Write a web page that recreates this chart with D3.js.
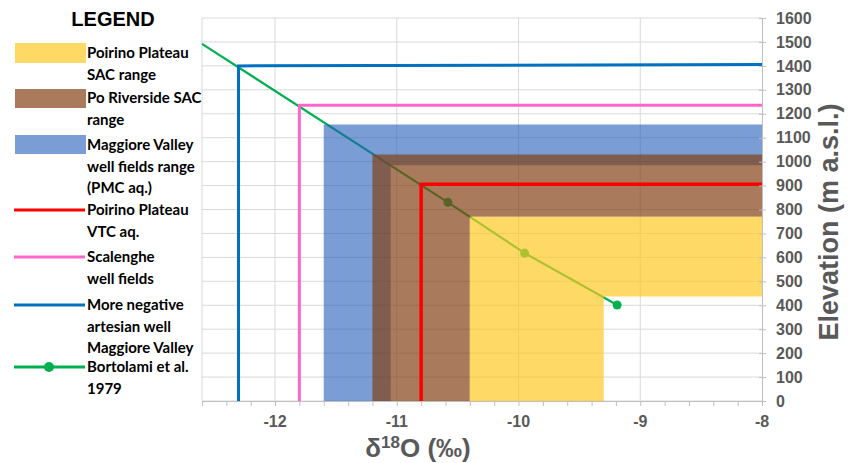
<!DOCTYPE html>
<meta charset="utf-8">
<style>
  body { margin: 0; background: #fff; }
  svg { display: block; font-family: "Liberation Sans", Arial, sans-serif; }
</style>
<body>
<script src="https://cdn.jsdelivr.net/npm/d3@7"></script>
<script>
// ---- data ----
var xTicks = [-12, -11, -10, -9, -8];
var yTicks = [0, 100, 200, 300, 400, 500, 600, 700, 800, 900, 1000, 1100, 1200, 1300, 1400, 1500, 1600];

// L-shaped ranges: outer corner (x, y) and inner corner (x, y), open to the right/bottom
var rangeNames  = ["Maggiore Valley well fields range (PMC aq.)", "Po Riverside SAC range", "Poirino Plateau SAC range"];
var rangeOuterX = [-11.6, -11.2, -10.4];
var rangeOuterY = [1155, 1030, 770];
var rangeInnerX = [-11.05, -10.4, -9.3];
var rangeInnerY = [985, 770, 437];

// step lines: vertical at x, then horizontal at elevation
var stepNames = ["Poirino Plateau VTC aq.", "Scalenghe well fields", "More negative artesian well Maggiore Valley"];
var stepX     = [-10.8, -11.8, -12.3];
var stepY     = [905, 1235, 1400];
var stepYEnd  = [905, 1235, 1406];

// Bortolami et al. 1979 line
var bortX = [-12.6, -10.58, -9.95, -9.19];
var bortY = [1492, 830, 618, 401];
var bortMarker = [false, true, true, true];

// ---- layout ----
var W = 851, H = 463;
var margin = {top: 18, right: 89, bottom: 62, left: 202},
  width = W - margin.left - margin.right,
  height = H - margin.top - margin.bottom;

var svg = d3.select("body").append("svg")
    .attr("width", W)
    .attr("height", H);

var g = svg.append("g")
    .attr("transform", "translate(" + margin.left + "," + margin.top + ")");

var x = d3.scaleLinear().domain([-12.6, -8]).range([0, width]);
var y = d3.scaleLinear().domain([0, 1600]).range([height, 0]);

var grey = "#595959";

// gridlines
g.selectAll(".hgrid").data(yTicks).enter().append("line")
    .attr("x1", 0).attr("x2", width)
    .attr("y1", function(d) { return y(d); }).attr("y2", function(d) { return y(d); })
    .style("stroke", "#d9d9d9").style("stroke-width", 1);
g.selectAll(".vgrid").data([-12.6].concat(xTicks.slice(0, -1))).enter().append("line")
    .attr("x1", function(d) { return x(d); }).attr("x2", function(d) { return x(d); })
    .attr("y1", 0).attr("y2", height)
    .style("stroke", "#d9d9d9").style("stroke-width", 1);

// green line goes under the coloured ranges
var line = d3.line().x(function(d) { return x(d[0]); }).y(function(d) { return y(d[1]); });
var bort = bortX.map(function(v, i) { return [v, bortY[i], bortMarker[i]]; });
g.append("path")
    .attr("d", line(bort))
    .style("fill", "none").style("stroke", "#00b050").style("stroke-width", 2.2);
g.selectAll(".bortDot").data(bort.filter(function(d) { return d[2]; })).enter().append("circle")
    .attr("cx", function(d) { return x(d[0]); })
    .attr("cy", function(d) { return y(d[1]); })
    .attr("r", 4.5)
    .style("fill", "#00b050");

// ranges (semi transparent)
var rangeFill = ["rgb(35,92,187)", "rgb(130,64,19)", "rgb(255,200,33)"];
var rangeAlpha = [0.6, 0.69, 0.69];
rangeNames.forEach(function(n, i) {
  var pts = [[rangeOuterX[i], 0], [rangeOuterX[i], rangeOuterY[i]], [-8, rangeOuterY[i]],
             [-8, rangeInnerY[i]], [rangeInnerX[i], rangeInnerY[i]], [rangeInnerX[i], 0]];
  g.append("path")
      .attr("d", line(pts) + "Z")
      .style("fill", rangeFill[i])
      .style("fill-opacity", rangeAlpha[i]);
});

// step lines on top
var stepColor = ["#ff0000", "#ff66cc", "#0070c0"];
var stepWidth = [3.5, 3, 3];
stepNames.forEach(function(n, i) {
  var pts = [[stepX[i], 0], [stepX[i], stepY[i]], [-8, stepYEnd[i]]];
  g.append("path")
      .attr("d", line(pts))
      .style("fill", "none")
      .style("stroke", stepColor[i])
      .style("stroke-width", stepWidth[i]);
});

// x axis (bottom)
var xAxis = g.append("g")
    .attr("transform", "translate(0," + height + ")")
    .call(d3.axisBottom(x).tickValues(d3.range(-12.6, -7.99, 0.2)).tickSize(5).tickFormat(""));
xAxis.select(".domain").style("stroke", "#bfbfbf");
xAxis.selectAll(".tick line").style("stroke", "#bfbfbf");
g.selectAll(".xlab").data(xTicks).enter().append("text")
    .attr("x", function(d) { return x(d); })
    .attr("y", height + 26)
    .attr("text-anchor", "middle")
    .style("font-size", "16px").style("font-weight", "bold").style("fill", grey)
    .text(function(d) { return d; });

// y axis (right)
var yAxis = g.append("g")
    .attr("transform", "translate(" + width + ",0)")
    .call(d3.axisRight(y).tickValues(yTicks).tickSize(4).tickPadding(10).tickFormat(d3.format("d")));
yAxis.select(".domain").style("stroke", "#bfbfbf");
yAxis.selectAll(".tick line").attr("x1", -3).style("stroke", "#bfbfbf");
yAxis.selectAll(".tick text")
    .style("font-size", "16px").style("font-weight", "bold").style("fill", grey)
    .style("font-family", "'Liberation Sans', Arial, sans-serif");

// axis titles
svg.append("text")
    .attr("transform", "translate(838,222) rotate(-90)")
    .attr("text-anchor", "middle")
    .style("font-size", "27px").style("font-weight", "bold").style("fill", grey)
    .text("Elevation (m a.s.l.)");
var xt = svg.append("text")
    .attr("x", 418).attr("y", 457)
    .attr("text-anchor", "middle")
    .style("font-size", "26px").style("font-weight", "bold").style("fill", grey);
xt.append("tspan").text("δ");
xt.append("tspan").attr("dy", -9).style("font-size", "17px").text("18");
xt.append("tspan").attr("dy", 9).text("O (‰)");

// ---- legend ----
svg.append("text")
    .attr("x", 113).attr("y", 26)
    .attr("text-anchor", "middle")
    .style("font-size", "20px").style("font-weight", "bold").style("fill", "#000")
    .text("LEGEND");

var legend = [
  {type: "rect", color: "#ffd966", y0: 43, y1: 63, lines: ["Poirino Plateau", "SAC range"], ty: 53},
  {type: "rect", color: "#a97b5c", y0: 89, y1: 108, lines: ["Po Riverside SAC", "range"], ty: 98},
  {type: "rect", color: "#7b9dd6", y0: 135, y1: 154, lines: ["Maggiore Valley", "well fields range", "(PMC aq.)"], ty: 145},
  {type: "line", color: "#ff0000", lines: ["Poirino Plateau", "VTC aq."], ty: 210},
  {type: "line", color: "#ff66cc", lines: ["Scalenghe", "well fields"], ty: 257},
  {type: "line", color: "#0070c0", lines: ["More negative", "artesian well", "Maggiore Valley"], ty: 305},
  {type: "dot", color: "#00b050", lines: ["Bortolami et al.", "1979"], ty: 367}
];
legend.forEach(function(d) {
  if (d.type == "rect") {
    svg.append("rect").attr("x", 15).attr("y", d.y0).attr("width", 71).attr("height", d.y1 - d.y0)
        .style("fill", d.color);
  } else {
    svg.append("line").attr("x1", 14).attr("x2", 85).attr("y1", d.ty).attr("y2", d.ty)
        .style("stroke", d.color).style("stroke-width", 3);
    if (d.type == "dot")
      svg.append("circle").attr("cx", 49).attr("cy", d.ty).attr("r", 5).style("fill", d.color);
  }
  d.lines.forEach(function(t, k) {
    svg.append("text")
        .attr("x", 87).attr("y", d.ty + k * 21.5)
        .attr("dy", "0.35em")
        .style("font-family", "Lato, sans-serif")
        .style("font-size", "15px").style("font-weight", "bold").style("fill", "#000")
        .text(t);
  });
});
</script>
</body>
